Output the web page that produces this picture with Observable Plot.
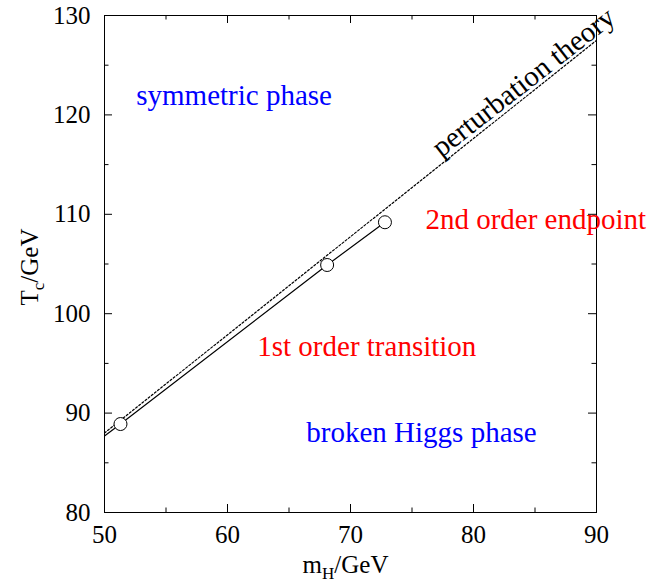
<!DOCTYPE html>
<html>
<head>
<meta charset="utf-8">
<script src="https://cdn.jsdelivr.net/npm/d3@7"></script>
<script src="https://cdn.jsdelivr.net/npm/@observablehq/plot@0.6"></script>
<style>
  body { margin: 0; background: #fff; }
  svg { font-family: "Liberation Serif", "Times New Roman", serif; }
</style>
</head>
<body>
<div id="chart"></div>
<script>
// ---- data ----
const solidMH = [50, 51.3, 68.1, 72.8];
const solidTc = [87.7, 88.9, 104.9, 109.2];
const pointMH = [51.3, 68.1, 72.8];
const pointTc = [88.9, 104.9, 109.2];
const pertMH = [50, 90];
const pertTc = [88.0, 127.5];

const xMajorTicks = [50, 60, 70, 80, 90];
const xMinorTicks = [55, 65, 75, 85];
const yMajorTicks = [80, 90, 100, 110, 120, 130];
const yMinorTicks = [85, 95, 105, 115, 125];

const labelText = ["symmetric phase", "2nd order endpoint", "1st order transition", "broken Higgs phase"];
const labelMH = [52.58, 76.09, 62.42, 66.41];
const labelTc = [121.9, 109.5, 96.72, 88.06];
const labelKind = ["phase", "order", "order", "phase"];

const curveText = ["perturbation theory"];
const curveMH = [84.06];
const curveTc = [123.3];

// ---- layout ----
const W = 660, H = 585;
const mL = 104, mR = 64, mT = 15, mB = 73;
const innerW = W - mL - mR, innerH = H - mT - mB;
const majorLen = 8, minorLen = 4.5;

const solid = solidMH.map((x, i) => ({x, y: solidTc[i]}));
const points = pointMH.map((x, i) => ({x, y: pointTc[i]}));
const pert = pertMH.map((x, i) => ({x, y: pertTc[i]}));
const labels = labelText.map((t, i) => ({t, x: labelMH[i], y: labelTc[i], k: labelKind[i]}));
const curveLabels = curveText.map((t, i) => ({t, x: curveMH[i], y: curveTc[i]}));

const font = "Liberation Serif";

const plot = Plot.plot({
  width: W,
  height: H,
  marginLeft: mL,
  marginRight: mR,
  marginTop: mT,
  marginBottom: mB,
  style: {fontFamily: font, background: "white", overflow: "visible"},
  x: {domain: [50, 90]},
  y: {domain: [80, 130]},
  marks: [
    Plot.line(pert, {x: "x", y: "y", stroke: "black", strokeWidth: 1.2, strokeDasharray: "2,2"}),
    Plot.line(solid, {x: "x", y: "y", stroke: "black", strokeWidth: 1.2}),
    Plot.dot(points, {x: "x", y: "y", r: 6.5, stroke: "black", fill: "white", strokeWidth: 1}),
    Plot.frame({stroke: "black", strokeWidth: 1}),
    // inward ticks on all four sides
    Plot.tickX(xMajorTicks, {x: d => d, insetTop: innerH - majorLen, stroke: "black"}),
    Plot.tickX(xMajorTicks, {x: d => d, insetBottom: innerH - majorLen, stroke: "black"}),
    Plot.tickX(xMinorTicks, {x: d => d, insetTop: innerH - minorLen, stroke: "black"}),
    Plot.tickX(xMinorTicks, {x: d => d, insetBottom: innerH - minorLen, stroke: "black"}),
    Plot.tickY(yMajorTicks, {y: d => d, insetRight: innerW - majorLen, stroke: "black"}),
    Plot.tickY(yMajorTicks, {y: d => d, insetLeft: innerW - majorLen, stroke: "black"}),
    Plot.tickY(yMinorTicks, {y: d => d, insetRight: innerW - minorLen, stroke: "black"}),
    Plot.tickY(yMinorTicks, {y: d => d, insetLeft: innerW - minorLen, stroke: "black"}),
    Plot.axisX({ticks: xMajorTicks, tickSize: 0, tickPadding: 13, fontSize: 25, label: null, fill: "black"}),
    Plot.axisY({ticks: yMajorTicks, tickSize: 0, tickPadding: 14, fontSize: 25, label: null, fill: "black"}),
    // axis titles (subscripts added below)
    Plot.text(["m_H/GeV"], {frameAnchor: "bottom", textAnchor: "middle", dy: 60, dx: -5, fontSize: 25, fill: "black", className: "xtitle", text: d => d}),
    Plot.text(["T_c/GeV"], {frameAnchor: "left", textAnchor: "middle", lineAnchor: "middle", dx: -75, dy: 3, rotate: -90, fontSize: 25, fill: "black", className: "ytitle", text: d => d}),
    // region labels
    Plot.text(labels, {x: "x", y: "y", text: "t", textAnchor: "start", lineAnchor: "middle", fontSize: 29,
      fill: d => d.k === "phase" ? "#0000ff" : "#ff0000"}),
    Plot.text(curveLabels, {x: "x", y: "y", text: "t", textAnchor: "middle", lineAnchor: "middle", fontSize: 29,
      rotate: -38, fill: "black"})
  ]
});

document.getElementById("chart").appendChild(plot);

// turn "A_b/GeV" into A with subscript b
function subscriptify(sel) {
  d3.select(plot).selectAll(sel + " text").each(function() {
    const el = d3.select(this);
    const raw = el.text();
    const m = raw.match(/^(.*?)_(.)(.*)$/);
    if (!m) return;
    el.text(null);
    el.append("tspan").text(m[1]);
    el.append("tspan").attr("dy", 6).attr("font-size", 17).text(m[2]);
    el.append("tspan").attr("dy", -6).text(m[3]);
  });
}
subscriptify(".xtitle");
subscriptify(".ytitle");
</script>
</body>
</html>
